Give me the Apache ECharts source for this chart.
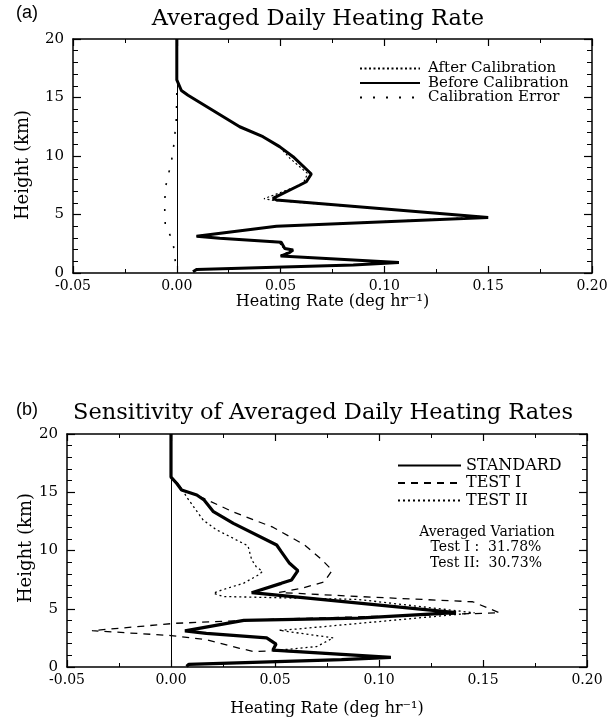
<!DOCTYPE html>
<html><head><meta charset="utf-8">
<script src="https://cdn.jsdelivr.net/npm/echarts@6/dist/echarts.min.js"></script>
<style>html,body{margin:0;padding:0;background:#fff}#c{width:613px;height:725px}</style>
</head><body><div id="c"></div>
<script>
// ---- data (heating rate in deg/hr, height in km) ----
const xTickLabels = ['-0.05','0.00','0.05','0.10','0.15','0.20'];
const yTickLabels = ['0','5','10','15','20'];

// Panel (a)
const aAfterX  = [0,0,0.0022,0.0054,0.0303,0.0415,0.0495,0.0545,0.063,0.061,0.057,0.042,0.047,0.149,0.048,0.0095,0.0207,0.049,0.051,0.055,0.053,0.050,0.107,0.085,0.0095,0.0078];
const aAfterH  = [20,16.5,15.6,15.2,12.5,11.65,10.8,9.8,8.5,7.7,7.35,6.35,6.2,4.78,4.0,3.15,2.96,2.68,2.2,1.96,1.74,1.45,0.9,0.68,0.3,0.1];
const aBeforeX = [0,0,0.0022,0.0054,0.0303,0.0415,0.0495,0.056,0.0648,0.0624,0.0591,0.0463,0.048,0.150,0.048,0.0095,0.0207,0.0503,0.052,0.056,0.0543,0.050,0.107,0.085,0.0095,0.0078];
const aBeforeH = [20,16.5,15.6,15.2,12.5,11.65,10.8,9.94,8.46,7.8,7.5,6.38,6.24,4.75,4.0,3.15,2.96,2.62,2.1,1.96,1.74,1.45,0.9,0.68,0.3,0.1];
const aErrX    = [0,0,-0.0003,-0.0014,-0.0026,-0.0042,-0.0055,-0.0058,-0.0058,-0.0055,-0.0034,-0.0018,-0.001,-0.0005];
const aErrH    = [16.5,15,13,11,9.5,8.3,7.3,6,5,4,3.3,2.6,1.5,0.5];

// Panel (b)
const bStdX = [0,0,0.0027,0.0051,0.0124,0.0159,0.0204,0.030,0.0508,0.053,0.057,0.061,0.058,0.053,0.0388,0.137,0.09,0.035,0.0067,0.017,0.046,0.0505,0.049,0.1057,0.082,0.0085,0.0075];
const bStdH = [20,16.3,15.77,15.2,14.76,14.33,13.33,12.33,10.47,9.9,8.9,8.27,7.47,7.18,6.38,4.66,4.2,4.0,3.1,2.88,2.5,1.97,1.45,0.82,0.63,0.23,0.05];
const bT1X  = [0,0,0.003,0.0055,0.0155,0.030,0.049,0.064,0.072,0.0775,0.0736,0.063,0.052,0.09,0.145,0.158,0.05,0.002,-0.038,0.0,0.017,0.033,0.040,0.050,0.1057,0.082,0.0085,0.0075];
const bT1H  = [20,16.3,15.8,15.2,14.5,13.3,12.0,10.5,9.3,8.3,7.3,6.76,6.4,6.05,5.6,4.65,4.1,3.75,3.12,2.7,2.35,1.6,1.32,1.4,0.82,0.63,0.23,0.05];
const bT2X  = [0,0,0.003,0.0055,0.0075,0.0155,0.022,0.030,0.037,0.0388,0.041,0.044,0.042,0.035,0.0243,0.0204,0.025,0.09,0.146,0.06,0.052,0.078,0.070,0.052,0.1057,0.082,0.0085,0.0075];
const bT2H  = [20,16.3,15.8,15.2,14.6,12.6,11.76,11.04,10.4,9.2,8.6,8.2,7.9,7.2,6.6,6.33,6.05,5.8,4.65,3.25,3.15,2.5,1.75,1.45,0.82,0.63,0.23,0.05];

const variationLines = ['Averaged Variation', 'Test I :  31.78%', 'Test II:  30.73%'];

// ---- helpers ----
const zip = (xs, hs) => xs.map((x, i) => [x, hs[i]]);
const SERIF = '"DejaVu Serif", serif';
const BLACK = '#000';

function xAxes(gi, nameGap) {
  const common = {
    type: 'value', gridIndex: gi, min: -0.05, max: 0.2, interval: 0.05,
    axisLine: { show: true, onZero: false, lineStyle: { color: BLACK, width: 1.5 } },
    axisTick: { show: true, inside: true, length: 7, lineStyle: { color: BLACK, width: 1.2 } },
    minorTick: { show: true, splitNumber: 2, length: 4, lineStyle: { color: BLACK, width: 1 } },
    splitLine: { show: false }, minorSplitLine: { show: false }
  };
  return [
    Object.assign({}, common, {
      position: 'bottom',
      axisLabel: {
        color: BLACK, fontFamily: SERIF, fontSize: 14, margin: 6,
        formatter: v => xTickLabels[Math.round((v + 0.05) / 0.05)]
      },
      name: 'Heating Rate (deg hr\u207B\u00B9)', nameLocation: 'middle', nameGap: nameGap,
      nameTextStyle: { color: BLACK, fontFamily: SERIF, fontSize: 16, verticalAlign: 'top' }
    }),
    Object.assign({}, common, { position: 'top', axisLabel: { show: false } })
  ];
}
function yAxes(gi) {
  const common = {
    type: 'value', gridIndex: gi, min: 0, max: 20, interval: 5,
    axisLine: { show: true, onZero: false, lineStyle: { color: BLACK, width: 1.5 } },
    axisTick: { show: true, inside: true, length: 8, lineStyle: { color: BLACK, width: 1.2 } },
    minorTick: { show: true, splitNumber: 5, length: 5, lineStyle: { color: BLACK, width: 1 } },
    splitLine: { show: false }, minorSplitLine: { show: false }
  };
  return [
    Object.assign({}, common, {
      position: 'left',
      axisLabel: { color: BLACK, fontFamily: SERIF, fontSize: 15, margin: 9,
        formatter: v => yTickLabels[Math.round(v / 5)] }
    }),
    Object.assign({}, common, { position: 'right', axisLabel: { show: false } })
  ];
}
function line(name, data, xi, yi, width, type, extra) {
  return Object.assign({
    name, type: 'line', data, xAxisIndex: xi, yAxisIndex: yi,
    symbol: 'none', showSymbol: false, smooth: false, silent: true,
    lineStyle: { color: BLACK, width, type, cap: 'butt' },
    itemStyle: { color: BLACK }
  }, extra || {});
}
const zeroLine = {
  silent: true, symbol: ['none', 'none'], label: { show: false },
  lineStyle: { color: BLACK, width: 1, type: 'solid' },
  data: [{ xAxis: 0 }], animation: false
};
function txt(text, x, y, size, family, align, rotation) {
  return {
    type: 'text', x, y, rotation: rotation || 0, silent: true,
    style: { text, fill: BLACK, font: size + 'px ' + family,
      align: align || 'center', textAlign: align || 'center',
      verticalAlign: 'middle', textVerticalAlign: 'middle' }
  };
}

const chart = echarts.init(document.getElementById('c'), null, { renderer: 'canvas' });
chart.setOption({
  animation: false,
  backgroundColor: '#fff',
  grid: [
    { left: 73, top: 39, width: 519, height: 234, containLabel: false },
    { left: 67, top: 434, width: 520, height: 233, containLabel: false }
  ],
  xAxis: [].concat(xAxes(0, 18), xAxes(1, 34)),
  yAxis: [].concat(yAxes(0), yAxes(1)),
  legend: [
    {
      orient: 'vertical', left: 359, top: 61, padding: 0,
      itemWidth: 60, itemHeight: 12, itemGap: -0.5,
      data: ['After Calibration', 'Before Calibration', 'Calibration Error'],
      textStyle: { color: BLACK, fontFamily: SERIF, fontSize: 15, lineHeight: 12, padding: [0, 0, 0, 3] },
      itemStyle: { opacity: 0 },
      selectedMode: false
    },
    {
      orient: 'vertical', left: 397, top: 457, padding: 0,
      itemWidth: 63, itemHeight: 16, itemGap: 0.5,
      data: ['STANDARD', 'TEST I', 'TEST II'],
      textStyle: { color: BLACK, fontFamily: SERIF, fontSize: 16, lineHeight: 17, padding: [0, 0, 0, 0] },
      itemStyle: { opacity: 0 },
      selectedMode: false
    }
  ],
  graphic: [
    txt('(a)', 27, 13, 18, '"Liberation Sans", Arial, sans-serif'),
    txt('Averaged Daily Heating Rate', 318, 19, 22.5, SERIF),
    txt('Height (km)', 23, 165, 18, SERIF, 'center', Math.PI / 2),
    txt('(b)', 27, 410, 18, '"Liberation Sans", Arial, sans-serif'),
    txt('Sensitivity of Averaged Daily Heating Rates', 323, 413, 22.5, SERIF),
    txt('Height (km)', 26, 548, 18, SERIF, 'center', Math.PI / 2),
    txt(variationLines[0], 487, 532, 14, SERIF),
    txt(variationLines[1], 486, 547, 14, SERIF),
    txt(variationLines[2], 486, 563, 14, SERIF)
  ],
  series: [
    line('After Calibration', zip(aAfterX, aAfterH), 0, 0, 1.2, [2, 2.5]),
    line('Before Calibration', zip(aBeforeX, aBeforeH), 0, 0, 3, 'solid', { markLine: zeroLine, z: 3 }),
    line('Calibration Error', zip(aErrX, aErrH), 0, 0, 1.6, [2, 11]),
    line('STANDARD', zip(bStdX, bStdH), 2, 2, 3.2, 'solid', { markLine: zeroLine, z: 3 }),
    line('TEST I', zip(bT1X, bT1H), 2, 2, 1.3, [7, 6]),
    line('TEST II', zip(bT2X, bT2H), 2, 2, 1.3, [2, 3])
  ]
});
</script>
</body></html>
